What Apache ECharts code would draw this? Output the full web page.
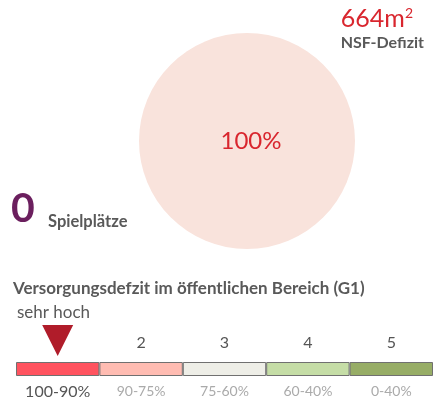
<!DOCTYPE html>
<html lang="de">
<head>
  <meta charset="utf-8">
  <title>Versorgungsdefizit</title>
  <style>
    html, body { margin: 0; padding: 0; background: #fff; }
  </style>
</head>
<body>
  <div id="myCharts" style="width: 434px;height:401px;"></div>
  <script src="https://cdn.jsdelivr.net/npm/echarts@6/dist/echarts.min.js"></script>
  <script type="text/javascript">
    // Kennzahlen
    var defizitWert = 664;
    var defizitProzent = 100;
    var spielplaetze = 0;
    // Skala
    var stufen = ['1', '2', '3', '4', '5'];
    var stufenBereiche = ['100-90%', '90-75%', '75-60%', '60-40%', '0-40%'];
    var stufenFarben = ['#ff535f', '#ffbcb2', '#eeeee7', '#c5dda6', '#97ad66'];
    var aktiveStufe = 0;

    var font = 'Lato, "Open Sans", sans-serif';
    var grau = '#595959';
    var myChart = echarts.init(document.getElementById('myCharts'));

    var chartOption = {
      animation: false,
      textStyle: { fontFamily: font },
      title: [
        {
          text: '{v|' + defizitWert + 'm}{s|2}',
          right: 21,
          top: 6,
          padding: 0,
          textStyle: {
            rich: {
              v: { fontSize: 25, fontWeight: 'normal', color: '#d9262e', fontFamily: font },
              s: { fontSize: 14, fontWeight: 'normal', color: '#d9262e', fontFamily: font, padding: [0, 0, 11, 0] }
            }
          }
        },
        {
          text: 'NSF-Defizit',
          right: 10,
          top: 35,
          padding: 0,
          textStyle: { fontSize: 16, fontWeight: 'bold', color: grau, fontFamily: font }
        },
        {
          text: String(spielplaetze),
          left: 11,
          top: 188,
          padding: 0,
          textStyle: { fontSize: 41, fontWeight: 'bold', color: '#6b1f5e', fontFamily: font }
        },
        {
          text: 'Spielplätze',
          left: 48,
          top: 213,
          padding: 0,
          textStyle: { fontSize: 16.5, fontWeight: 'bold', color: grau, fontFamily: font }
        },
        {
          text: 'Versorgungsdefzit im öffentlichen Bereich (G1)',
          left: 13,
          top: 280,
          padding: 0,
          textStyle: { fontSize: 17, fontWeight: 'bold', color: grau, fontFamily: font }
        },
        {
          text: 'sehr hoch',
          left: 17,
          top: 304,
          padding: 0,
          textStyle: { fontSize: 17, fontWeight: 'normal', color: grau, fontFamily: font }
        }
      ],
      grid: {
        left: 16,
        right: 1,
        top: 362,
        height: 14
      },
      xAxis: [
        {
          type: 'category',
          data: stufenBereiche,
          position: 'bottom',
          axisLine: { show: false },
          axisTick: { show: false },
          axisLabel: {
            margin: 8,
            interval: 0,
            formatter: function (v, i) {
              return i === aktiveStufe ? '{a|' + v + '}' : '{b|' + v + '}';
            },
            rich: {
              a: { fontSize: 16, color: '#555', fontFamily: font },
              b: { fontSize: 14, color: '#aaa', fontFamily: font }
            }
          }
        },
        {
          type: 'category',
          data: stufen,
          position: 'top',
          axisLine: { show: false },
          axisTick: { show: false },
          axisLabel: {
            margin: 11,
            interval: 0,
            fontSize: 16,
            color: '#555',
            formatter: function (v, i) {
              return i === aktiveStufe ? '' : v;
            }
          }
        }
      ],
      yAxis: {
        type: 'value',
        min: 0,
        max: 1,
        show: false
      },
      series: [
        {
          type: 'pie',
          silent: true,
          center: [247, 141],
          radius: 108,
          startAngle: 90,
          label: {
            position: 'center',
            formatter: defizitProzent + '%',
            fontSize: 24,
            color: '#d9262e',
            fontFamily: font,
            offset: [4, 0]
          },
          labelLine: { show: false },
          itemStyle: { color: '#f9e3dc' },
          data: [defizitProzent]
        },
        {
          type: 'bar',
          barCategoryGap: 0,
          silent: true,
          itemStyle: { borderColor: '#707070', borderWidth: 1 },
          data: stufen.map(function (s, i) {
            return { value: 1, itemStyle: { color: stufenFarben[i] } };
          })
        },
        {
          type: 'scatter',
          clip: false,
          silent: true,
          symbol: 'triangle',
          symbolRotate: 180,
          symbolSize: [31, 31],
          symbolOffset: [0, -21.5],
          itemStyle: { color: '#b01c2a', opacity: 1 },
          data: [[aktiveStufe, 1]]
        }
      ]
    };
    myChart.setOption(chartOption);
  </script>
</body>
</html>
